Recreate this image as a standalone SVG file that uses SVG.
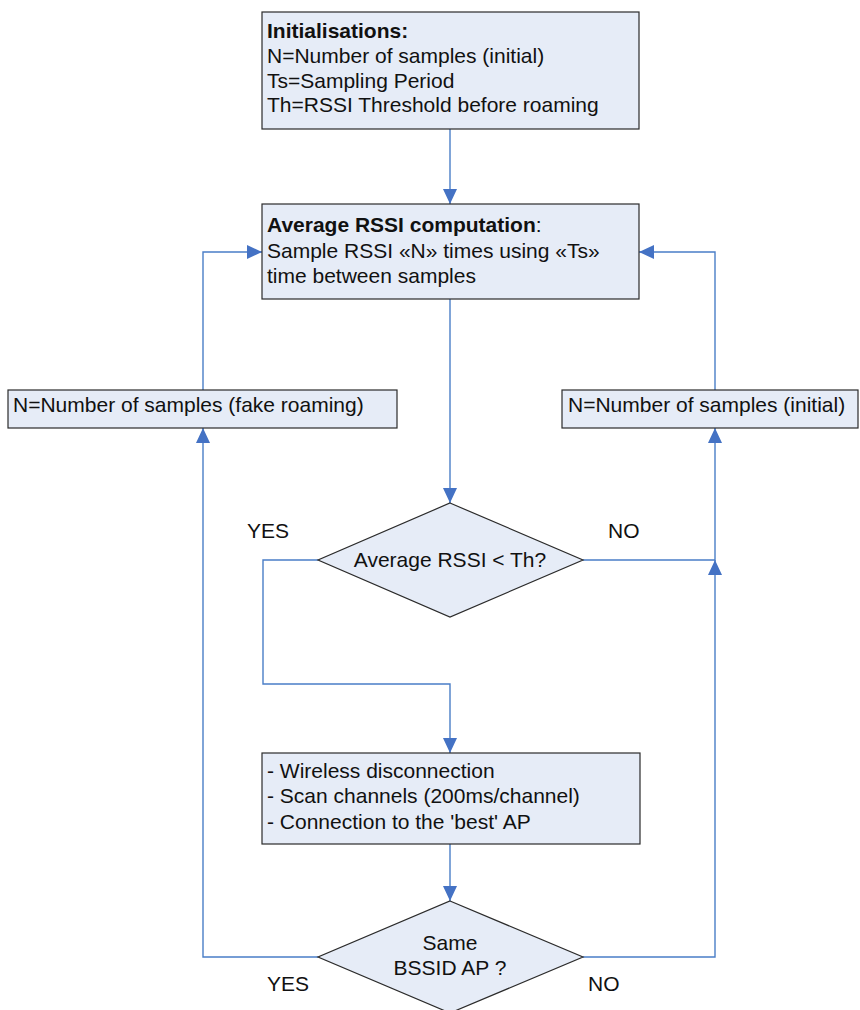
<svg xmlns="http://www.w3.org/2000/svg" width="860" height="1010" viewBox="0 0 860 1010">
<style>
.box{fill:#E6ECF7;stroke:#2b2b2b;stroke-width:1.2}
.t{font-family:"Liberation Sans",Arial,sans-serif;font-size:21px;fill:#111}
.b{font-weight:bold}
.c{fill:none;stroke:#4A7EC7;stroke-width:1.4}
</style>
<defs>
<marker id="ah" markerUnits="userSpaceOnUse" markerWidth="15" markerHeight="14" refX="15" refY="7" orient="auto">
<path d="M0,0 L15,7 L0,14 z" fill="#4472C4"/>
</marker>
</defs>
<rect width="860" height="1010" fill="#fff"/>
<g id="connectors">
<path class="c" d="M450,129 V204" marker-end="url(#ah)"/>
<path class="c" d="M450,299 V503" marker-end="url(#ah)"/>
<path class="c" d="M318,560 H263 V684 H450 V753" marker-end="url(#ah)"/>
<path class="c" d="M450,844 V901" marker-end="url(#ah)"/>
<path class="c" d="M318,957 H203 V428" marker-end="url(#ah)"/>
<path class="c" d="M203,390 V252 H262" marker-end="url(#ah)"/>
<path class="c" d="M583,957 H715 V560" marker-end="url(#ah)"/>
<path class="c" d="M583,560 H715 V428" marker-end="url(#ah)"/>
<path class="c" d="M715,390 V252 H639" marker-end="url(#ah)"/>
</g>
<g id="init">
<rect class="box" x="262" y="12" width="377" height="117"/>
<text class="t b" x="267" y="38">Initialisations:</text>
<text class="t" x="267" y="63">N=Number of samples (initial)</text>
<text class="t" x="267" y="88">Ts=Sampling Period</text>
<text class="t" x="267" y="112">Th=RSSI Threshold before roaming</text>
</g>
<g id="avg">
<rect class="box" x="262" y="204" width="377" height="95"/>
<text class="t" x="267" y="232"><tspan class="b">Average RSSI computation</tspan>:</text>
<text class="t" x="267" y="258">Sample RSSI «N» times using «Ts»</text>
<text class="t" x="267" y="283">time between samples</text>
</g>
<g id="fake">
<rect class="box" x="8" y="390" width="389" height="38"/>
<text class="t" x="13" y="412">N=Number of samples (fake roaming)</text>
</g>
<g id="initial">
<rect class="box" x="562" y="390" width="296" height="38"/>
<text class="t" x="568" y="412">N=Number of samples (initial)</text>
</g>
<g id="decision1">
<polygon class="box" points="450,503 583,560 450,617 318,560"/>
<text class="t" x="450" y="567" text-anchor="middle">Average RSSI &lt; Th?</text>
<text class="t" x="247" y="538">YES</text>
<text class="t" x="608" y="538">NO</text>
</g>
<g id="roam">
<rect class="box" x="262" y="753" width="378" height="91"/>
<text class="t" x="267" y="778">- Wireless disconnection</text>
<text class="t" x="267" y="803">- Scan channels (200ms/channel)</text>
<text class="t" x="267" y="829">- Connection to the 'best' AP</text>
</g>
<g id="decision2">
<polygon class="box" points="450,901 583,957 450,1013 318,957"/>
<text class="t" x="450" y="950" text-anchor="middle">Same</text>
<text class="t" x="450" y="975" text-anchor="middle">BSSID AP ?</text>
<text class="t" x="267" y="991">YES</text>
<text class="t" x="588" y="991">NO</text>
</g>
</svg>
